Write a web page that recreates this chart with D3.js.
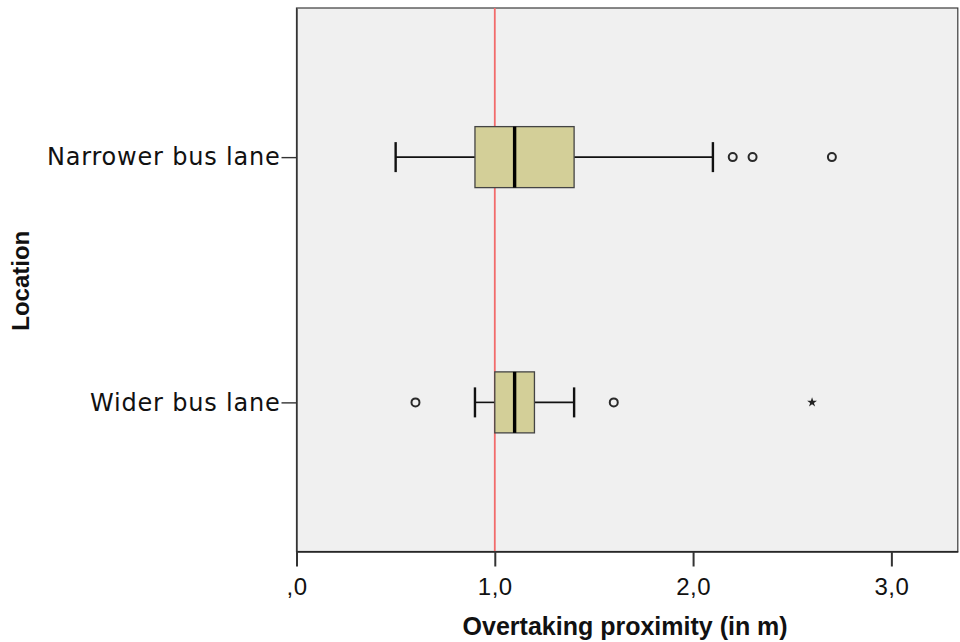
<!DOCTYPE html>
<html>
<head>
<meta charset="utf-8">
<script src="https://cdn.jsdelivr.net/npm/d3@7"></script>
<style>
  html, body { margin: 0; padding: 0; background: #ffffff; }
  svg { display: block; }
</style>
</head>
<body>
<svg id="chart" width="960" height="642"></svg>
<script>
// ---- data ----
const categories = ["Narrower bus lane", "Wider bus lane"];
const whiskerLow  = [0.5, 0.9];
const q1          = [0.9, 1.0];
const median      = [1.1, 1.1];
const q3          = [1.4, 1.2];
const whiskerHigh = [2.1, 1.4];
const outliers    = [[2.2, 2.3, 2.7], [0.6, 1.6]];
const extremes    = [[], [2.6]];
const referenceValue = 1.0;
const xTickValues = [0, 1, 2, 3];
const xTickLabels = [",0", "1,0", "2,0", "3,0"];
const xTitle = "Overtaking proximity (in m)";
const yTitle = "Location";

(function () {
// ---- layout ----
const svg = d3.select("#chart");
const pL = 296.5, pR = 957.8, pT = 8, pB = 551.5;

const x = d3.scaleLinear().domain([0, 3.335]).range([pL, pR]);
const y = d3.scalePoint().domain(categories).range([pT, pB]).padding(0.608);

// plot background
svg.append("rect")
  .attr("x", pL).attr("y", pT)
  .attr("width", pR - pL).attr("height", pB - pT)
  .attr("fill", "#f0f0f0")
  .attr("stroke", "#3a3a3a").attr("stroke-width", 1.2);

// reference line
svg.append("line")
  .attr("x1", x(referenceValue)).attr("x2", x(referenceValue))
  .attr("y1", pT).attr("y2", pB)
  .attr("stroke", "#f26b6b").attr("stroke-width", 1.8);

const boxH = 61, capH = 30;
const rows = categories.map((c, i) => ({
  cat: c, lo: whiskerLow[i], q1: q1[i], med: median[i], q3: q3[i], hi: whiskerHigh[i],
  out: outliers[i], ext: extremes[i]
}));

const g = svg.append("g");
rows.forEach(r => {
  const cy = y(r.cat);
  // whiskers
  g.append("line").attr("x1", x(r.lo)).attr("x2", x(r.q1)).attr("y1", cy).attr("y2", cy)
    .attr("stroke", "#111").attr("stroke-width", 1.6);
  g.append("line").attr("x1", x(r.q3)).attr("x2", x(r.hi)).attr("y1", cy).attr("y2", cy)
    .attr("stroke", "#111").attr("stroke-width", 1.6);
  // caps
  [r.lo, r.hi].forEach(v => {
    g.append("line").attr("x1", x(v)).attr("x2", x(v))
      .attr("y1", cy - capH / 2).attr("y2", cy + capH / 2)
      .attr("stroke", "#111").attr("stroke-width", 2.4);
  });
  // box
  g.append("rect")
    .attr("x", x(r.q1)).attr("y", cy - boxH / 2)
    .attr("width", x(r.q3) - x(r.q1)).attr("height", boxH)
    .attr("fill", "#d3cf98")
    .attr("stroke", "#444").attr("stroke-width", 1.3);
  // median
  g.append("line").attr("x1", x(r.med)).attr("x2", x(r.med))
    .attr("y1", cy - boxH / 2).attr("y2", cy + boxH / 2)
    .attr("stroke", "#000").attr("stroke-width", 3.4);
  // outliers
  r.out.forEach(v => {
    g.append("circle").attr("cx", x(v)).attr("cy", cy).attr("r", 4)
      .attr("fill", "none").attr("stroke", "#2a2a2a").attr("stroke-width", 2);
  });
  // extremes (star)
  r.ext.forEach(v => {
    g.append("path")
      .attr("d", d3.symbol().type(d3.symbolStar).size(30)())
      .attr("transform", `translate(${x(v)},${cy})`)
      .attr("fill", "#222");
  });
});

// x axis
const xAxis = d3.axisBottom(x).tickValues(xTickValues)
  .tickFormat((d, i) => xTickLabels[i]).tickSize(15).tickSizeOuter(0);
const gx = svg.append("g").attr("transform", `translate(0,${pB})`).call(xAxis);
gx.select(".domain").attr("stroke", "#222").attr("stroke-width", 1.5);
gx.selectAll(".tick line").attr("stroke", "#333").attr("stroke-width", 2);
gx.selectAll(".tick text")
  .attr("font-family", "'Liberation Sans', Arial, sans-serif")
  .attr("font-size", 24).attr("letter-spacing", "0.5px").attr("fill", "#111")
  .attr("dy", "0.71em").attr("y", 26);

// y axis
const yAxis = d3.axisLeft(y).tickSize(15).tickSizeOuter(0).tickPadding(1);
const gy = svg.append("g").attr("transform", `translate(${pL},0)`).call(yAxis);
gy.select(".domain").attr("stroke", "#333").attr("stroke-width", 1.4);
gy.selectAll(".tick line").attr("stroke", "#333").attr("stroke-width", 1.4);
gy.selectAll(".tick text")
  .attr("font-family", "'DejaVu Sans', Verdana, sans-serif")
  .attr("font-size", 24).attr("letter-spacing", "0.8px").attr("fill", "#111");

// axis titles
svg.append("text")
  .attr("x", (pL + pR) / 2 - 2).attr("y", 635)
  .attr("text-anchor", "middle")
  .attr("font-family", "'Liberation Sans', Arial, sans-serif")
  .attr("font-weight", "bold").attr("font-size", 25).attr("fill", "#111")
  .text(xTitle);

svg.append("text")
  .attr("transform", `translate(29,${(pT + pB) / 2 + 1}) rotate(-90)`)
  .attr("text-anchor", "middle")
  .attr("font-family", "'Liberation Sans', Arial, sans-serif")
  .attr("font-weight", "bold").attr("font-size", 24).attr("fill", "#111")
  .text(yTitle);
})();
</script>
</body>
</html>
